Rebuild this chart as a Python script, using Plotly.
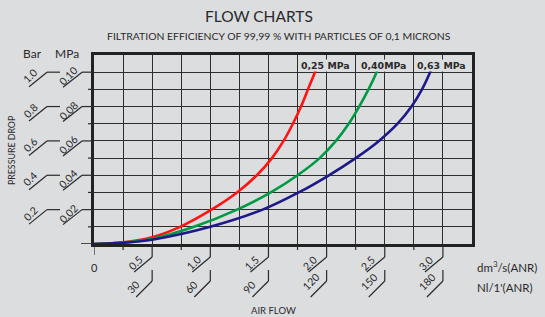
import plotly.graph_objects as go

# ---- data ----
red_q = [0, 0.25, 0.5, 0.74, 1.01, 1.23, 1.40, 1.53, 1.63, 1.71, 1.78, 1.84, 1.90, 1.93]
red_p = [0, 0.001, 0.004, 0.01, 0.02, 0.03, 0.04, 0.05, 0.06, 0.07, 0.08, 0.09, 0.10, 0.105]
green_q = [0, 0.25, 0.5, 0.86, 1.23, 1.52, 1.75, 1.94, 2.08, 2.19, 2.28, 2.36, 2.43, 2.46]
green_p = [0, 0.0008, 0.003, 0.01, 0.02, 0.03, 0.04, 0.05, 0.06, 0.07, 0.08, 0.09, 0.10, 0.105]
blue_q = [0, 0.25, 0.5, 1.0, 1.45, 1.76, 2.02, 2.25, 2.45, 2.61, 2.73, 2.82, 2.89, 2.92]
blue_p = [0, 0.0007, 0.0025, 0.01, 0.02, 0.03, 0.04, 0.05, 0.06, 0.07, 0.08, 0.09, 0.10, 0.105]
series_names = ["0,25 MPa", "0,40MPa", "0,63 MPa"]

x_major = [0.5, 1.0, 1.5, 2.0, 2.5, 3.0]
x_labels1 = ["0.5", "1.0", "1.5", "2.0", "2.5", "3.0"]
x_labels2 = ["30", "60", "90", "120", "150", "180"]
x_minor = [0.25, 0.75, 1.25, 1.75, 2.25, 2.75]
y_major = [0.02, 0.04, 0.06, 0.08, 0.10]
y_labels_mpa = ["0.02", "0.04", "0.06", "0.08", "0.10"]
y_labels_bar = ["0.2", "0.4", "0.6", "0.8", "1.0"]
y_minor = [0.01, 0.03, 0.05, 0.07, 0.09]

# ---- geometry ----
W, H = 545, 317
ML, MR, MT, MB = 94, 73, 55, 73
PW, PH = W - ML - MR, H - MT - MB
XMAX, YMAX = 3.25, 0.11
PXX = PW / XMAX        # pixels per x unit
PXY = PH / YMAX        # pixels per y unit

BG = "#dcdddf"
INK = "#2a2a2a"
FONT = "Lato"

fig = go.Figure()
for q, p, c in [(red_q, red_p, "#ff1414"), (green_q, green_p, "#009a44"),
                (blue_q, blue_p, "#1e1888")]:
    fig.add_trace(go.Scatter(x=q, y=p, mode="lines",
                             line=dict(color=c, width=2.6, shape="spline", smoothing=0.8),
                             showlegend=False, hoverinfo="skip"))

shapes = []
ann = []

def line_xp(x0, y0, x1, y1, w=1.2):
    # x in data, y in pixels below axis (positive = down)
    shapes.append(dict(type="line", xref="x", yref="paper", x0=x0, x1=x1,
                       y0=-y0 / PH, y1=-y1 / PH, line=dict(color=INK, width=w)))

def line_py(x0, y0, x1, y1, w=1.2):
    # x in pixels left of axis (negative), y in data
    shapes.append(dict(type="line", xref="paper", yref="y", x0=x0 / PW, x1=x1 / PW,
                       y0=y0, y1=y1, line=dict(color=INK, width=w)))

def text(xref, yref, x, y, t, size, ang=0, xa="center", family=FONT, **kw):
    ann.append(dict(xref=xref, yref=yref, x=x, y=y, text=t, textangle=ang,
                    showarrow=False, xanchor=xa, yanchor="middle",
                    font=dict(size=size, color=INK, family=family), **kw))

# x-axis ticks and leaders
line_xp(0, 0, 0, 11)
for v in x_minor:
    line_xp(v, 0, v, 6)
for v, l1, l2 in zip(x_major, x_labels1, x_labels2):
    line_xp(v, 0, v, 13)
    line_xp(v, 13, v - 18 / PXX, 28)
    line_xp(v, 26, v, 37)
    line_xp(v, 37, v - 16 / PXX, 53)
    text("x", "paper", v - 17 / PXX, -18.5 / PH, l1, 10.5, -45)
    off = 19 if len(l2) == 2 else 16
    dy = 43 if len(l2) == 2 else 38
    text("x", "paper", v - off / PXX, -dy / PH, l2, 10.5, -45)
text("x", "paper", 0, -23 / PH, "0", 11)

# y-axis ticks and leaders
line_py(-13, 0, 0, 0, 1.6)
for v in y_minor:
    line_py(-6, v, 0, v)
for v, lm, lb in zip(y_major, y_labels_mpa, y_labels_bar):
    line_py(-12, v, 0, v)
    line_py(-31, v - 15 / PXY, -12, v)
    line_py(-47, v, -34, v)
    line_py(-65, v - 14.5 / PXY, -47, v)
    text("paper", "y", -26 / PW, v - 4 / PXY, lm, 10.5, -45)
    text("paper", "y", -64 / PW, v - 4 / PXY, lb, 10.5, -45)
text("paper", "y", -30 / PW, -2.5 / PXY, "0", 11)

# curve labels at top
for name, px in zip(series_names, [325, 383, 441.5]):
    text("paper", "paper", (px - ML) / PW, (H - MB - 65) / PH, "<b>" + name + "</b>", 9.4,
         family="DejaVu Sans", bgcolor=BG, borderpad=0)

def pp(x, y):
    return (x - ML) / PW, (H - MB - y) / PH

for txt, x, y, s, ang, xa in [
    ("FLOW CHARTS", 259, 16, 15.5, 0, "center"),
    ("FILTRATION EFFICIENCY OF 99,99 % WITH PARTICLES OF 0,1 MICRONS", 279, 36, 10.4, 0, "center"),
    ("Bar", 32, 54, 12, 0, "center"),
    ("MPa", 67, 54, 12, 0, "center"),
    ("PRESSURE DROP", 11, 150, 8.8, -90, "center"),
    ("AIR FLOW", 273, 310, 9.5, 0, "center"),
    ("dm<sup>3</sup>/s(ANR)", 475, 266, 11.5, 0, "left"),
    ("Nl/1'(ANR)", 475, 287, 11.5, 0, "left"),
]:
    xp, yp = pp(x, y)
    text("paper", "paper", xp, yp, txt, s, ang, xa)

fig.update_layout(
    width=W, height=H, margin=dict(l=ML, r=MR, t=MT, b=MB),
    paper_bgcolor=BG, plot_bgcolor=BG,
    shapes=shapes, annotations=ann,
    xaxis=dict(range=[0, XMAX], dtick=0.25, tick0=0, showticklabels=False, ticks="",
               showgrid=True, gridcolor="#2e2e2e", gridwidth=1.4, zeroline=False,
               showline=True, mirror=True, linecolor="#222222", linewidth=3, fixedrange=True),
    yaxis=dict(range=[0, YMAX], dtick=0.01, tick0=0, showticklabels=False, ticks="",
               showgrid=True, gridcolor="#2e2e2e", gridwidth=1.4, zeroline=False,
               showline=True, mirror=True, linecolor="#222222", linewidth=3, fixedrange=True),
)

fig.write_html("out.html", config={"responsive": False, "displayModeBar": False},
               post_script="document.body.style.margin='0';document.body.style.overflow='hidden';")
